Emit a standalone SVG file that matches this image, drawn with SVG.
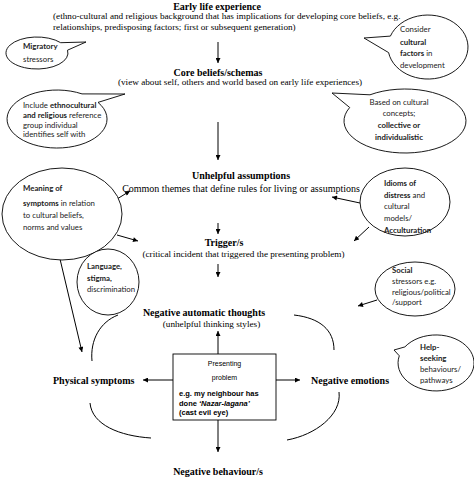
<svg xmlns="http://www.w3.org/2000/svg" width="474" height="477" viewBox="0 0 474 477">
<style>
.t{font-family:"Liberation Serif","Times New Roman",serif;font-weight:bold;font-size:10px;fill:#000}
.s{font-family:"Liberation Serif","Times New Roman",serif;font-size:9.2px;fill:#000}
.b{font-family:Lato,"Open Sans",sans-serif;font-size:7.8px;fill:#222}
.bb{font-weight:bold}
.a{font-family:"Liberation Sans",Arial,sans-serif;fill:#000}
.sh{fill:#fff;stroke:#000;stroke-width:0.9}
.ln{fill:none;stroke:#000;stroke-width:1}
</style>
<defs>
<marker id="ah" viewBox="0 0 10 10" refX="10" refY="5" markerWidth="6" markerHeight="5" orient="auto" markerUnits="userSpaceOnUse"><path d="M0,0 L10,5 L0,10 z" fill="#000"/></marker>
</defs>
<rect width="474" height="477" fill="#fff"/>

<g id="connectors">
<line class="ln" x1="218" y1="42" x2="218" y2="63" marker-end="url(#ah)"/>
<line class="ln" x1="218" y1="122" x2="218" y2="160" marker-end="url(#ah)"/>
<line class="ln" x1="218" y1="223" x2="218" y2="234" marker-end="url(#ah)"/>
<line class="ln" x1="218" y1="264" x2="218" y2="277" marker-end="url(#ah)"/>
<line class="ln" x1="218" y1="354" x2="218" y2="331" marker-end="url(#ah)"/>
<line class="ln" x1="173" y1="380" x2="143" y2="380" marker-end="url(#ah)"/>
<line class="ln" x1="276" y1="380" x2="300" y2="380" marker-end="url(#ah)"/>
<line class="ln" x1="218" y1="420" x2="218" y2="452" marker-end="url(#ah)"/>
<line class="ln" x1="117" y1="199" x2="130" y2="191" marker-end="url(#ah)"/>
<line class="ln" x1="117" y1="235" x2="138" y2="241" marker-end="url(#ah)"/>
<line class="ln" x1="60" y1="259" x2="82" y2="352" marker-end="url(#ah)"/>
<line class="ln" x1="360" y1="203" x2="332" y2="197" marker-end="url(#ah)"/>
<line class="ln" x1="369" y1="227" x2="354" y2="241" marker-end="url(#ah)"/>
<line class="ln" x1="377" y1="300" x2="358" y2="306" marker-end="url(#ah)"/>
<path class="ln" d="M118,315 C100,322 90,340 92,361"/>
<path class="ln" d="M90,403 C92,425 120,436 151,438"/>
<path class="ln" d="M294,315 C320,318 334,330 334,350"/>
<path class="ln" d="M339,392 C342,415 315,435 287,440"/>
</g>

<g id="early">
<text class="t" x="217" y="9.5" text-anchor="middle">Early life experience</text>
<text class="s" x="53" y="18.5">(ethno-cultural and religious background that has implications for developing core beliefs, e.g.</text>
<text class="s" x="53" y="29.5">relationships, predisposing factors; first or subsequent generation)</text>
</g>
<g id="core">
<text class="t" x="218" y="75.5" text-anchor="middle">Core beliefs/schemas</text>
<text class="s" x="240" y="85" text-anchor="middle">(view about self, others and world based on early life experiences)</text>
</g>
<g id="unhelpful">
<text class="t" x="241" y="178.5" text-anchor="middle">Unhelpful assumptions</text>
<text class="s" x="241" y="191.5" text-anchor="middle" style="font-size:10px">Common themes that define rules for living or assumptions</text>
</g>
<g id="trigger">
<text class="t" x="224" y="246" text-anchor="middle">Trigger/s</text>
<text class="s" x="243.5" y="257" text-anchor="middle">(critical incident that triggered the presenting problem)</text>
</g>
<g id="nat">
<text class="t" x="204" y="315.5" text-anchor="middle">Negative automatic thoughts</text>
<text class="s" x="211.5" y="326.5" text-anchor="middle">(unhelpful thinking styles)</text>
</g>
<g id="presenting">
<rect class="sh" x="173" y="354" width="103" height="66"/>
<text class="a" x="224.5" y="365.5" text-anchor="middle" font-size="7">Presenting</text>
<text class="a" x="224.5" y="380" text-anchor="middle" font-size="7">problem</text>
<text class="a" x="179" y="396" font-size="7.5" font-weight="bold">e.g. my neighbour has</text>
<text class="a" x="179" y="405.5" font-size="7.5" font-weight="bold">done <tspan font-style="italic">‘Nazar-lagana’</tspan></text>
<text class="a" x="179" y="415" font-size="7.5" font-weight="bold">(cast evil eye)</text>
</g>
<g id="physical"><text class="t" x="53" y="383.5">Physical symptoms</text></g>
<g id="emotions"><text class="t" x="311" y="383.5">Negative emotions</text></g>
<g id="behaviour"><text class="t" x="218" y="475" text-anchor="middle">Negative behaviour/s</text></g>

<g id="migratory">
<path class="sh" d="M67.5,50.2 L86,42 L60.7,42.7 A31 16 0 1 0 67.5 50.2 Z"/>
<text class="b" x="23" y="49"><tspan class="bb">Migratory</tspan></text>
<text class="b" x="23" y="62">stressors</text>
</g>
<g id="consider">
<path class="sh" d="M388.6,52.6 L364,38 L390.4,36.1 A40 32 0 1 1 388.6 52.6 Z"/>
<text class="b" x="400" y="32">Consider</text>
<text class="b" x="400" y="44.5"><tspan class="bb">cultural</tspan></text>
<text class="b" x="400" y="56"><tspan class="bb">factors</tspan> in</text>
<text class="b" x="400" y="67.5">development</text>
</g>
<g id="include">
<path class="sh" d="M98,102.4 L125,94 L82,93.9 A50 29 0 1 0 98 102.4 Z"/>
<text class="b" x="23" y="108">Include <tspan class="bb">ethnocultural</tspan></text>
<text class="b" x="23" y="118"><tspan class="bb">and religious</tspan> reference</text>
<text class="b" x="23" y="127.5">group individual</text>
<text class="b" x="23" y="137">identifies self with</text>
</g>
<g id="based">
<path class="sh" d="M349.7,107.5 L332,93 L370,94.8 A61 32 0 1 1 349.7 107.5 Z"/>
<text class="b" x="399" y="105" text-anchor="middle">Based on cultural</text>
<text class="b" x="399" y="116" text-anchor="middle">concepts;</text>
<text class="b bb" x="399" y="128" text-anchor="middle">collective or</text>
<text class="b bb" x="399" y="140" text-anchor="middle">individualistic</text>
</g>
<g id="meaning">
<ellipse class="sh" cx="62" cy="214" rx="60" ry="46"/>
<text class="b" x="23" y="191"><tspan class="bb">Meaning of</tspan></text>
<text class="b" x="23" y="206"><tspan class="bb">symptoms</tspan> in relation</text>
<text class="b" x="23" y="218">to cultural beliefs,</text>
<text class="b" x="23" y="230">norms and values</text>
</g>
<g id="language">
<ellipse class="sh" cx="108" cy="282" rx="31" ry="33"/>
<text class="b bb" x="87" y="269">Language,</text>
<text class="b bb" x="87" y="280.5">stigma,</text>
<text class="b" x="87" y="292">discrimination</text>
</g>
<g id="idioms">
<ellipse class="sh" cx="405" cy="202" rx="45" ry="34"/>
<text class="b" x="384" y="186"><tspan class="bb">Idioms of</tspan></text>
<text class="b" x="384" y="198"><tspan class="bb">distress</tspan> and</text>
<text class="b" x="384" y="209">cultural</text>
<text class="b" x="384" y="221">models/</text>
<text class="b bb" x="384" y="233">Acculturation</text>
</g>
<g id="social">
<ellipse class="sh" cx="415" cy="289" rx="40" ry="27"/>
<text class="b bb" x="392" y="273">Social</text>
<text class="b" x="392" y="283.5">stressors e.g.</text>
<text class="b" x="392" y="295">religious/political</text>
<text class="b" x="392" y="305">/support</text>
</g>
<g id="help">
<path class="sh" d="M399.3,355.8 L394,350 L404.9,346.9 A38 28 0 1 1 399.3 355.8 Z"/>
<text class="b bb" x="420" y="350">Help-</text>
<text class="b bb" x="420" y="361">seeking</text>
<text class="b" x="420" y="372">behaviours/</text>
<text class="b" x="420" y="383">pathways</text>
</g>
</svg>
